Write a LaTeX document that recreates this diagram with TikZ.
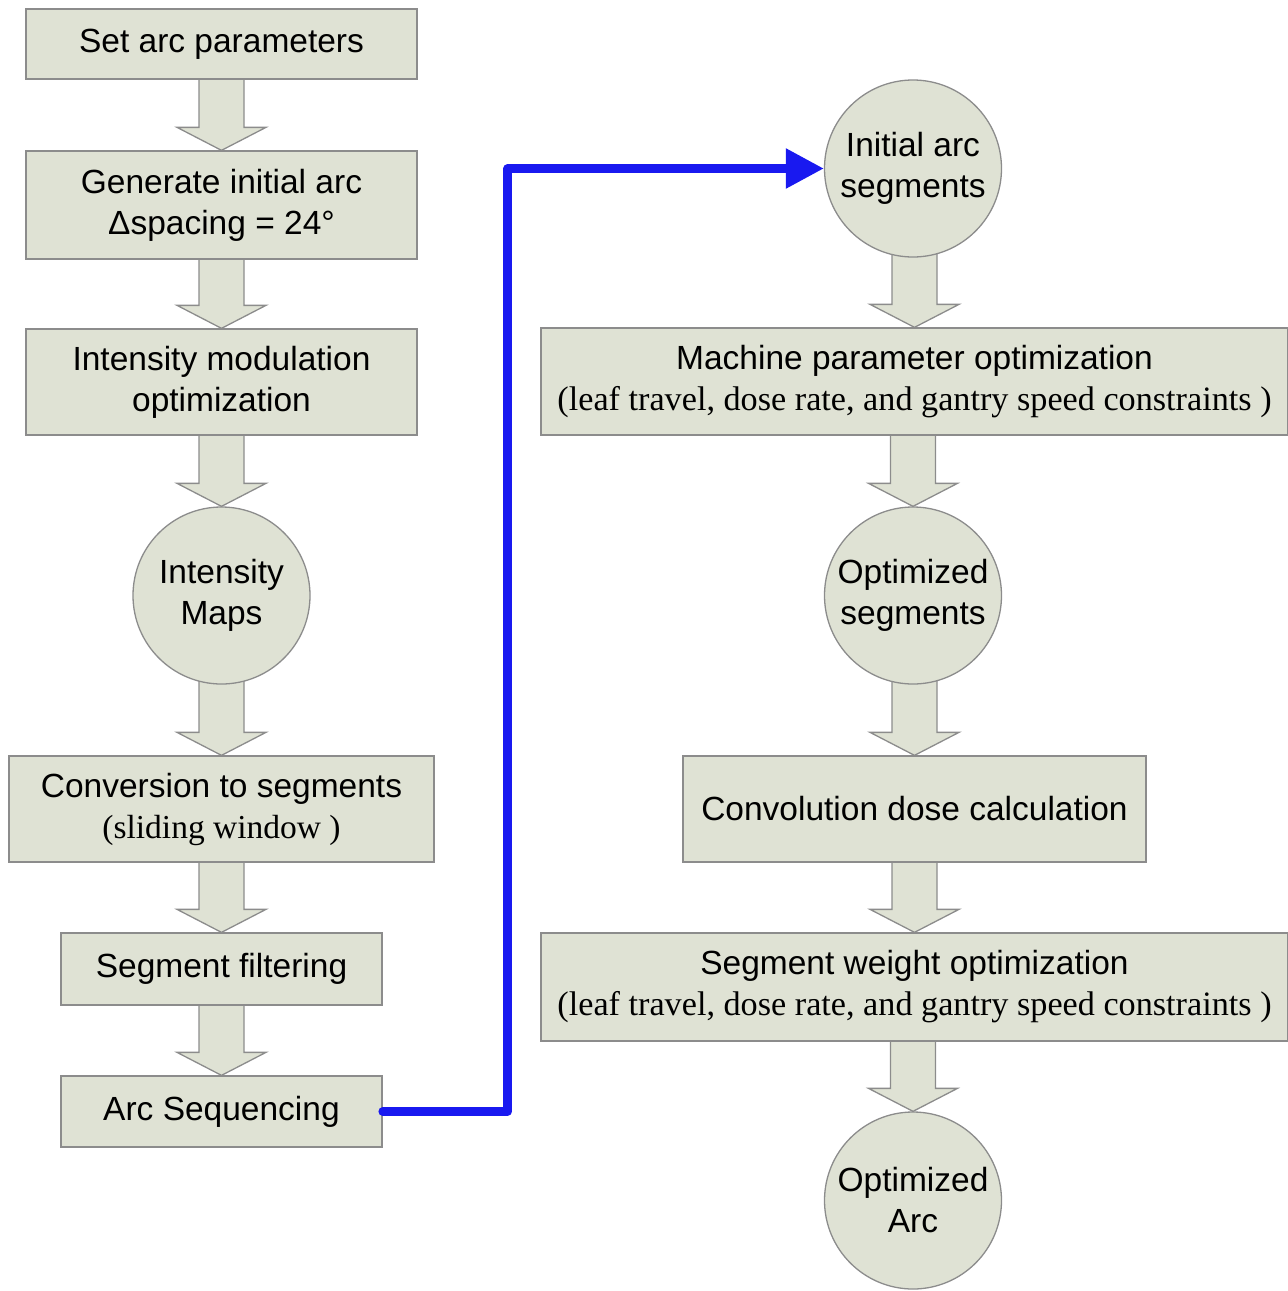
\documentclass[tikz,border=0pt]{standalone}
\usepackage{fontspec}
\setmainfont{Liberation Sans}
\newfontfamily\tnr{Liberation Serif}
\usetikzlibrary{calc,arrows.meta}
\definecolor{boxfill}{RGB}{223,226,212}
\definecolor{boxline}{RGB}{140,140,140}
\definecolor{connblue}{RGB}{25,25,240}
\pgfdeclarelayer{background}
\pgfsetlayers{background,main}
\tikzset{
  box/.style={draw=boxline, line width=1.3pt, fill=boxfill, inner sep=0pt, align=center,
    font=\fontsize{33.5}{41}\selectfont},
  roundnode/.style={circle, draw=boxline, line width=1.3pt, fill=boxfill, inner sep=0pt,
    minimum size=177pt, align=center, font=\fontsize{33.5}{41}\selectfont},
  barrow/.style={draw=boxline, line width=1.3pt, fill=boxfill, line join=miter},
  conn/.style={draw=connblue, line width=8.5pt, line join=round, line cap=round,
    -{Triangle[length=38pt,width=38pt]}},
}
\newcommand\serifline[1]{{\tnr\fontsize{34.2}{41}\selectfont #1}}
\newcommand\blockarrow[2]{%
  \begin{pgfonlayer}{background}
  \path[barrow] let \p1=(#1.center), \p2=(#2.north) in
    (\x2-22.5pt,\y1) -- (\x2-22.5pt,\y2+23pt) -- (\x2-44.5pt,\y2+23pt) -- (\x2,\y2)
    -- (\x2+44.5pt,\y2+23pt) -- (\x2+22.5pt,\y2+23pt) -- (\x2+22.5pt,\y1) -- cycle;
  \end{pgfonlayer}}
\begin{document}
\begin{tikzpicture}[x=1pt,y=-1pt]
\useasboundingbox (0,0) rectangle (1288,1291);
% left column
\node[box, minimum width=391pt, minimum height=70pt] (b1) at (221.5,44) {Set arc parameters};
\node[box, minimum width=391pt, minimum height=108pt] (b2) at (221.5,205) {Generate initial arc\\Δspacing = 24°};
\node[box, minimum width=391pt, minimum height=106pt] (b3) at (221.5,382) {Intensity modulation\\optimization};
\node[roundnode] (c1) at (221.5,595.5) {Intensity\\Maps};
\node[box, minimum width=425pt, minimum height=106pt] (b4) at (221.5,809) {Conversion to segments\\{\tnr (sliding window )}};
\node[box, minimum width=321pt, minimum height=72pt] (b5) at (221.5,969) {Segment filtering};
\node[box, minimum width=321pt, minimum height=71pt] (b6) at (221.5,1111.5) {Arc Sequencing};
% right column
\node[roundnode] (c2) at (913,168.5) {Initial arc\\segments};
\node[box, minimum width=747pt, minimum height=107pt] (b7) at (914.5,381.5) {Machine parameter optimization\\\serifline{(leaf travel, dose rate, and gantry speed constraints )}};
\node[roundnode] (c3) at (913,595.5) {Optimized\\segments};
\node[box, minimum width=463pt, minimum height=106pt] (b8) at (914.5,809) {Convolution dose calculation};
\node[box, minimum width=747pt, minimum height=108pt] (b9) at (914.5,987) {Segment weight optimization\\\serifline{(leaf travel, dose rate, and gantry speed constraints )}};
\node[roundnode] (c4) at (913,1200.5) {Optimized\\Arc};
% block arrows
\blockarrow{b1}{b2}
\blockarrow{b2}{b3}
\blockarrow{b3}{c1}
\blockarrow{c1}{b4}
\blockarrow{b4}{b5}
\blockarrow{b5}{b6}
\blockarrow{c2}{b7}
\blockarrow{b7}{c3}
\blockarrow{c3}{b8}
\blockarrow{b8}{b9}
\blockarrow{b9}{c4}
% blue connector
\draw[conn] (b6.east) -- ++(125,0) |- (c2.west);
\end{tikzpicture}
\end{document}
